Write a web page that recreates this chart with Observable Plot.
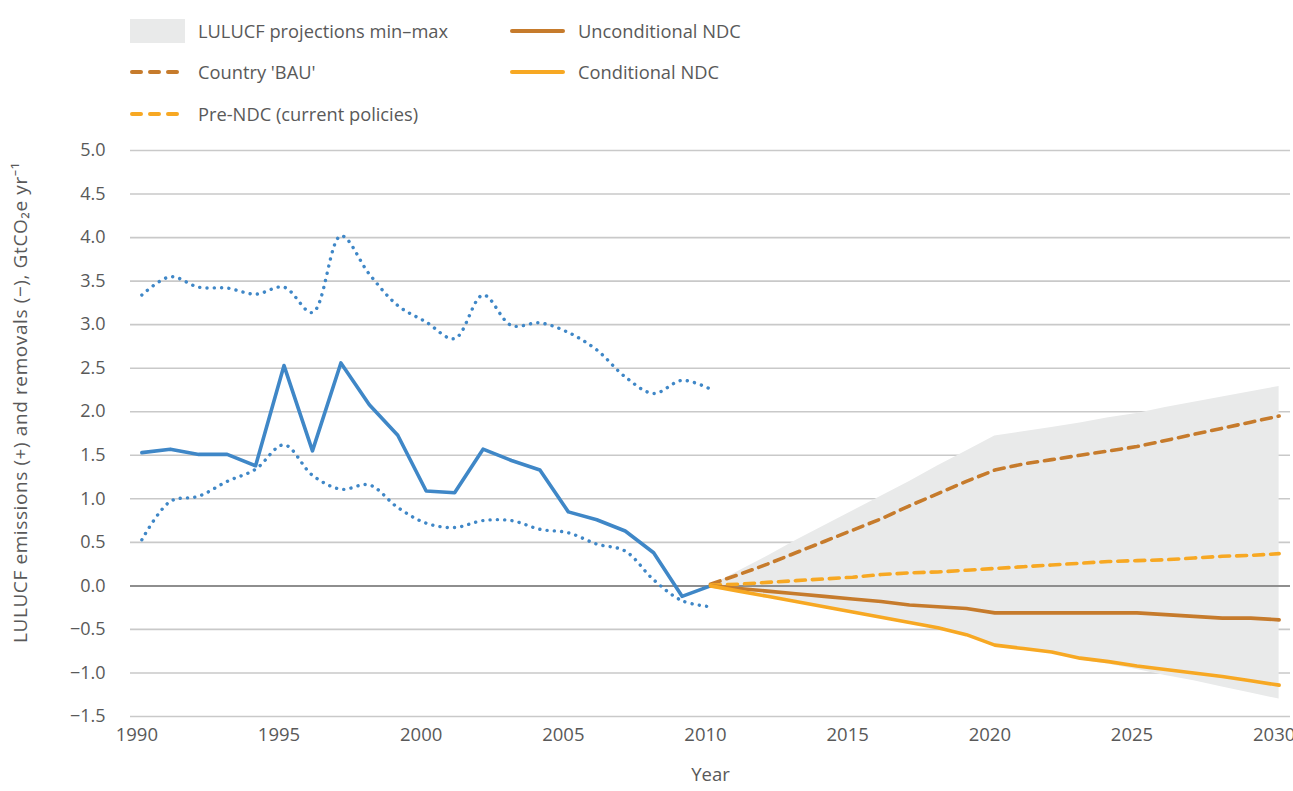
<!DOCTYPE html>
<html>
<head>
<meta charset="utf-8">
<script src="https://cdn.jsdelivr.net/npm/d3@7"></script>
<script src="https://cdn.jsdelivr.net/npm/@observablehq/plot@0.6"></script>
<style>
  html, body { margin: 0; padding: 0; background: #fff; }
  body { width: 1293px; height: 791px; overflow: hidden; font-family: "Open Sans", "Noto Sans", sans-serif; color: #595959; }
  #legend { position: relative; height: 135px; width: 1293px; }
  .item { position: absolute; display: flex; align-items: center; font-size: 18.3px; color: #595959; white-space: nowrap; }
  .item svg { margin-right: 13px; }
  #chart svg { display: block; overflow: visible; }
  .ylab text { letter-spacing: 0.6px; }
</style>
</head>
<body>
<div id="legend"></div>
<div id="chart"></div>
<script>
// ---- Data ----
const histYears = [1990,1991,1992,1993,1994,1995,1996,1997,1998,1999,2000,2001,2002,2003,2004,2005,2006,2007,2008,2009,2010];
const histCentral = [1.53,1.57,1.51,1.51,1.38,2.53,1.55,2.56,2.08,1.73,1.09,1.07,1.57,1.44,1.33,0.85,0.76,0.63,0.38,-0.12,0.00];
const histUpper   = [3.34,3.55,3.43,3.42,3.35,3.43,3.14,4.02,3.58,3.22,3.03,2.84,3.34,2.99,3.02,2.91,2.71,2.40,2.21,2.36,2.26];
const histLower   = [0.53,0.97,1.03,1.20,1.34,1.62,1.27,1.11,1.16,0.90,0.72,0.67,0.75,0.75,0.65,0.61,0.48,0.40,0.07,-0.17,-0.24];

const projYears = [2010,2011,2012,2013,2014,2015,2016,2017,2018,2019,2020,2021,2022,2023,2024,2025,2026,2027,2028,2029,2030];
const bandMax   = [0.00,0.17,0.34,0.52,0.69,0.86,1.03,1.20,1.38,1.55,1.72,1.77,1.82,1.87,1.93,1.98,2.05,2.11,2.17,2.23,2.29];
const bandMin   = [0.00,-0.06,-0.12,-0.18,-0.24,-0.31,-0.37,-0.43,-0.49,-0.57,-0.69,-0.73,-0.77,-0.85,-0.90,-0.96,-1.03,-1.09,-1.16,-1.23,-1.30];
const bau       = [0.02,0.13,0.25,0.38,0.51,0.64,0.77,0.92,1.06,1.20,1.33,1.40,1.45,1.50,1.55,1.60,1.67,1.74,1.81,1.88,1.95];
const preNdc    = [0.01,0.02,0.04,0.06,0.08,0.10,0.13,0.15,0.16,0.18,0.20,0.22,0.24,0.26,0.28,0.29,0.30,0.32,0.34,0.35,0.37];
const uncondNdc = [0.00,-0.03,-0.06,-0.09,-0.12,-0.15,-0.18,-0.22,-0.24,-0.26,-0.31,-0.31,-0.31,-0.31,-0.31,-0.31,-0.33,-0.35,-0.37,-0.37,-0.39];
const condNdc   = [0.00,-0.06,-0.12,-0.18,-0.24,-0.30,-0.36,-0.42,-0.48,-0.56,-0.68,-0.72,-0.76,-0.83,-0.87,-0.92,-0.96,-1.00,-1.04,-1.09,-1.14];

const xTicks = [1990,1995,2000,2005,2010,2015,2020,2025,2030];
const yTicks = [-1.5,-1.0,-0.5,0,0.5,1.0,1.5,2.0,2.5,3.0,3.5,4.0,4.5,5.0];

const legendLabels = ["LULUCF projections min–max","Unconditional NDC","Country 'BAU'","Conditional NDC","Pre-NDC (current policies)"];
const yLabel = "LULUCF emissions (+) and removals (−), GtCO₂e yr⁻¹";
const xLabel = "Year";

// ---- Colours ----
const BLUE = "#3f87c7", BROWN = "#c67b2c", ORANGE = "#f7a823", BAND = "#e9eaea", GRID = "#c9c9c9", ZERO = "#8e8e8e";

// ---- Tables ----
const hist = histYears.map((year, i) => ({year, central: histCentral[i], upper: histUpper[i], lower: histLower[i]}));
const proj = projYears.map((year, i) => ({year, bandMax: bandMax[i], bandMin: bandMin[i], bau: bau[i], pre: preNdc[i], uncond: uncondNdc[i], cond: condNdc[i]}));

// ---- Legend ----
const legendSpec = [
  {label: legendLabels[0], kind: "band", color: BAND, left: 130, top: 18},
  {label: legendLabels[1], kind: "solid", color: BROWN, left: 510, top: 18},
  {label: legendLabels[2], kind: "dash", color: BROWN, left: 130, top: 59},
  {label: legendLabels[3], kind: "solid", color: ORANGE, left: 510, top: 59},
  {label: legendLabels[4], kind: "dash", color: ORANGE, left: 130, top: 101}
];
const legend = document.getElementById("legend");
for (const s of legendSpec) {
  const div = document.createElement("div");
  div.className = "item";
  div.style.left = s.left + "px";
  div.style.top = s.top + "px";
  let sw;
  if (s.kind === "band") sw = `<svg width="55" height="24"><rect x="0" y="0" width="55" height="24" fill="${s.color}"/></svg>`;
  else if (s.kind === "solid") sw = `<svg width="55" height="24"><line x1="2" x2="53" y1="12" y2="12" stroke="${s.color}" stroke-width="4" stroke-linecap="round"/></svg>`;
  else sw = `<svg width="55" height="24"><line x1="2" x2="53" y1="12" y2="12" stroke="${s.color}" stroke-width="4" stroke-linecap="round" stroke-dasharray="9 9"/></svg>`;
  div.innerHTML = sw + `<span>${s.label}</span>`;
  legend.appendChild(div);
}

// ---- Chart ----
const chart = Plot.plot({
  width: 1293,
  height: 656,
  marginTop: 15,
  marginBottom: 75,
  marginLeft: 130,
  marginRight: 3,
  style: {fontFamily: "'Open Sans', 'Noto Sans', sans-serif", fontSize: "17px", color: "#595959", background: "#fff", overflow: "visible"},
  x: {domain: [1989.6, 2030.4]},
  y: {domain: [-1.5, 5.0]},
  marks: [
    Plot.ruleY(yTicks.filter(d => d !== 0), {stroke: GRID, strokeWidth: 1.6}),
    Plot.areaY(proj, {x: "year", y1: "bandMin", y2: "bandMax", fill: BAND}),
    Plot.ruleY([0], {stroke: ZERO, strokeWidth: 2}),
    Plot.lineY(hist, {x: "year", y: "upper", stroke: BLUE, strokeWidth: 3.4, strokeDasharray: "0.1 7.2", strokeLinecap: "round", curve: "catmull-rom"}),
    Plot.lineY(hist, {x: "year", y: "lower", stroke: BLUE, strokeWidth: 3.4, strokeDasharray: "0.1 7.2", strokeLinecap: "round", curve: "catmull-rom"}),
    Plot.lineY(hist, {x: "year", y: "central", stroke: BLUE, strokeWidth: 3.6}),
    Plot.lineY(proj, {x: "year", y: "bau", stroke: BROWN, strokeWidth: 3.6, strokeDasharray: "10 7"}),
    Plot.lineY(proj, {x: "year", y: "pre", stroke: ORANGE, strokeWidth: 3.6, strokeDasharray: "10 7"}),
    Plot.lineY(proj, {x: "year", y: "uncond", stroke: BROWN, strokeWidth: 3.6}),
    Plot.lineY(proj, {x: "year", y: "cond", stroke: ORANGE, strokeWidth: 3.6}),
    Plot.axisY({ticks: yTicks, tickSize: 0, tickPadding: 25, tickFormat: d3.format(".1f"), fontSize: 18, label: null}),
    Plot.text([yLabel], {frameAnchor: "left", textAnchor: "middle", rotate: -90, dx: -110, dy: -31, fontSize: 19, fill: "#595959", className: "ylab"}),
    Plot.axisX({ticks: xTicks, tickSize: 0, tickPadding: 11, dx: -5, tickFormat: d => String(d), fontSize: 18.5, label: null}),
    Plot.text([xLabel], {frameAnchor: "bottom", dy: 64, fontSize: 18.5, fill: "#595959"})
  ]
});
document.getElementById("chart").appendChild(chart);
</script>
</body>
</html>
